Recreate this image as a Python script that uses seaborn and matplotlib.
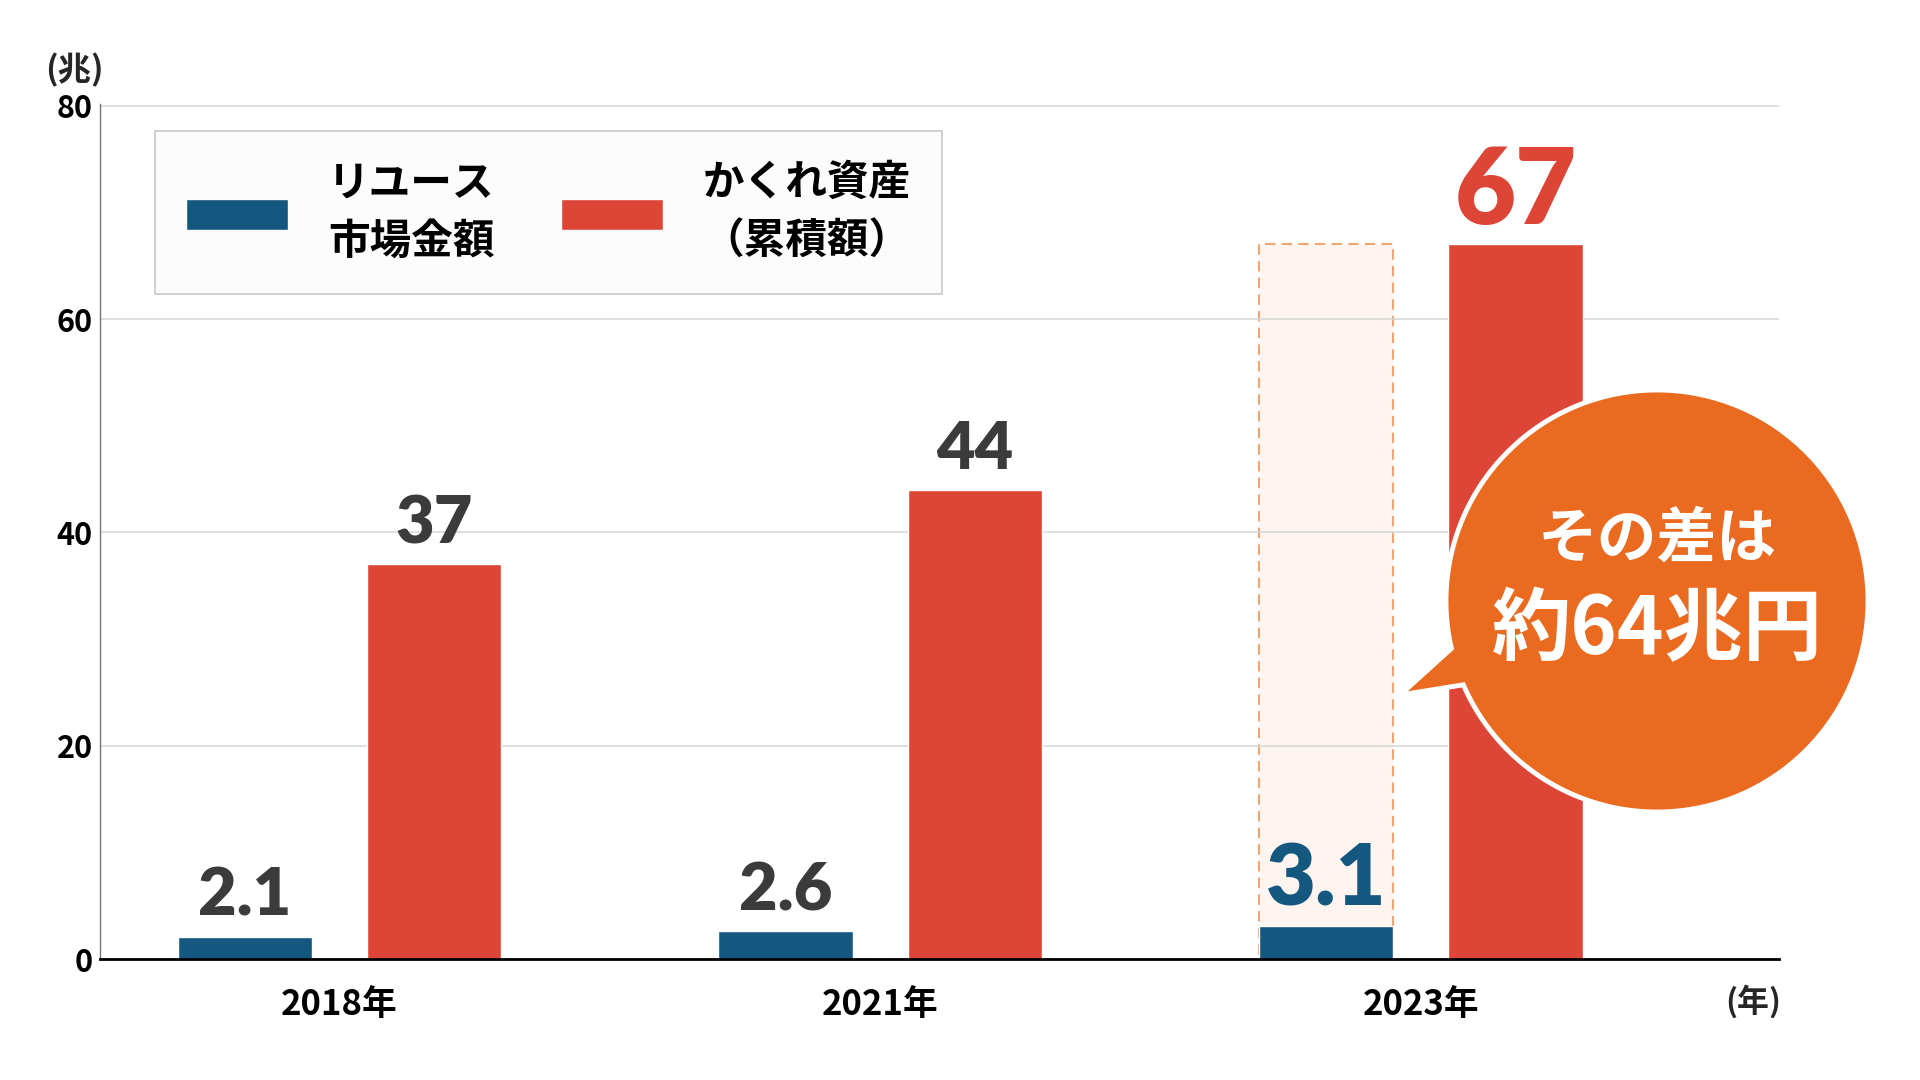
import numpy as np
import pandas as pd
import matplotlib
matplotlib.use("Agg")
import matplotlib.pyplot as plt
from matplotlib.patches import Polygon
import seaborn as sns

# ---- data ----
years = ["2018年", "2021年", "2023年"]
series = ["リユース\n市場金額", "かくれ資産\n（累積額）"]
reuse = [2.1, 2.6, 3.1]
kakure = [37, 44, 67]
yticks = [0, 20, 40, 60, 80]

BLUE = "#14577F"
RED = "#DD4537"
ORANGE = "#EA6A20"
GRAY_TXT = "#3B3B3B"

sns.set_theme(style="white")
plt.rcParams["font.family"] = ["Noto Sans CJK JP", "DejaVu Sans"]

df = pd.DataFrame({
    "year": years * 2,
    "series": [series[0]] * len(years) + [series[1]] * len(years),
    "value": reuse + kakure,
})

fig = plt.figure(figsize=(19.2, 10.8), dpi=100)
ax = fig.add_axes([0.052, 0.112, 0.8745, 0.7915])

sns.barplot(data=df, x="year", y="value", hue="series", order=years,
            hue_order=series, palette=[BLUE, RED], width=0.7, gap=0.29,
            saturation=1, errorbar=None, ax=ax, zorder=2)

ax.set_xlim(-0.443, 2.662)
ax.set_ylim(0, 80.15)
ax.set_yticks(yticks)
ax.set_xlabel("")
ax.set_ylabel("")
ax.set_axisbelow(True)
ax.grid(axis="y", color="#D6D6D6", linewidth=1.1)
ax.grid(axis="x", visible=False)
for s in ["top", "right"]:
    ax.spines[s].set_visible(False)
ax.spines["bottom"].set_color("black")
ax.spines["bottom"].set_linewidth(2)
ax.spines["left"].set_color("#777777")
ax.spines["left"].set_linewidth(1)
ax.tick_params(axis="y", length=0, pad=5, labelsize=22)
ax.tick_params(axis="x", length=0, pad=20, labelsize=25)
for t in ax.get_yticklabels() + ax.get_xticklabels():
    t.set_fontweight("bold")
    t.set_color("black")

blue_bars = ax.containers[0]
red_bars = ax.containers[1]

# ghost bar behind the 2023 reuse bar, as tall as the hidden assets
g = blue_bars[2]
ax.bar(g.get_x(), kakure[2], width=g.get_width(), align="edge",
       facecolor="#FEF5F1", edgecolor="#F0A673", linestyle=(0, (5, 3)),
       linewidth=1.5, zorder=0.3)

# value labels
lbl_colors = [[GRAY_TXT, GRAY_TXT, BLUE], [GRAY_TXT, GRAY_TXT, RED]]
lbl_sizes = [[48, 48, 62], [48, 48, 76]]
for ci, (bars, vals) in enumerate([(blue_bars, reuse), (red_bars, kakure)]):
    for i, (b, v) in enumerate(zip(bars, vals)):
        ax.annotate(f"{v:g}", (b.get_x() + b.get_width() / 2, b.get_height()),
                    xytext=(0, 15), textcoords="offset points",
                    ha="center", va="baseline", color=lbl_colors[ci][i],
                    fontsize=lbl_sizes[ci][i], fontweight="heavy",
                    family=["Lato", "DejaVu Sans"], zorder=5)

# legend
handles, labels = ax.get_legend_handles_labels()
leg = ax.legend(handles, labels, loc="upper left",
                bbox_to_anchor=(155 / 1920, 1 - 131 / 1080),
                bbox_transform=fig.transFigure, ncol=2, fontsize=30,
                handlelength=2.45, handleheight=0.75, handletextpad=0.95,
                columnspacing=1.6, borderpad=0.75, borderaxespad=0,
                frameon=True, fancybox=False, edgecolor="#C8C8C8",
                facecolor="#FCFCFC", framealpha=1)
leg.get_frame().set_linewidth(1.2)
for t in leg.get_texts():
    t.set_fontweight("bold")
    t.set_color("black")
    t.set_multialignment("left")
    t.set_linespacing(1.5)

# unit labels
fig.text(74 / 1920, 1 - 70 / 1080, "(兆)", ha="center", va="center",
         fontsize=24, fontweight="bold")
fig.text(1753 / 1920, 1 - 1002 / 1080, "(年)", ha="center", va="center",
         fontsize=23, fontweight="bold")

# speech bubble
cx, cy, r = 16.57, 10.8 - 6.01, 2.11
tip = (14.00, 10.8 - 6.95)
a0, a1 = np.deg2rad(203.4), np.deg2rad(193.0 + 360)
ang = np.linspace(a0, a1, 300)
pts = np.column_stack([cx + r * np.cos(ang), cy + r * np.sin(ang)])
pts = np.vstack([pts, tip])
bubble = Polygon(pts, closed=True, facecolor=ORANGE, edgecolor="white",
                 linewidth=3.5, transform=fig.dpi_scale_trans, zorder=10)
fig.add_artist(bubble)
fig.text(1657 / 1920, 1 - 540 / 1080, "その差は", ha="center", va="center",
         color="white", fontsize=43, fontweight="bold", zorder=11)
fig.text(1657 / 1920, 1 - 631 / 1080, "約64兆円", ha="center", va="center",
         color="white", fontsize=57, fontweight="bold", zorder=11)

fig.savefig("out.png", dpi=100)
